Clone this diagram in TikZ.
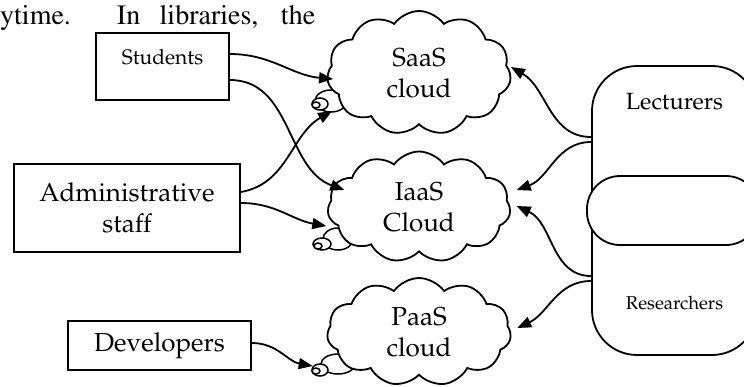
\documentclass[tikz,border=0pt]{standalone}
\usepackage[T1]{fontenc}
\usepackage{mathpazo}
\usepackage{tikz}
\usetikzlibrary{shapes.symbols, arrows.meta, positioning}
\definecolor{ink}{RGB}{0,0,0}
\newcommand{\bigfont}{\fontsize{26}{31}\selectfont}
\newcommand{\studfont}{\fontsize{21}{25}\selectfont}
\newcommand{\lectfont}{\fontsize{23.5}{28}\selectfont}
\newcommand{\resfont}{\fontsize{18.5}{22}\selectfont}
\newcommand{\bodyfont}{\fontfamily{ptm}\fontsize{28}{34}\selectfont}
\tikzset{
  userbox/.style={rectangle, draw=ink, fill=white, line width=1.8pt,
    inner sep=0pt, align=center, font=\bigfont},
  skycloud/.style={cloud, draw=ink, fill=white, line width=1.8pt,
    cloud puffs=11, cloud puff arc=110, inner sep=0pt,
    align=center, font=\bigfont},
  bubble/.style={draw=ink, fill=white, line width=1.5pt},
  arrow/.style={-{Triangle[length=14pt,width=11pt]}, line width=1.8pt, color=ink}
}
\begin{document}
\begin{tikzpicture}[x=1pt, y=-1pt]
  \clip (0,0) rectangle (744,386);
  % line of body text above the figure
  \node[anchor=base west, inner sep=0pt, font=\bodyfont] (bodyline) at (0,24)
    {\makebox[315pt][s]{ytime. In libraries, the}};

  % user groups
  \node[userbox, minimum width=133, minimum height=67] (stud) at (162.5,66.5) {};
  \node[font=\studfont] (studlbl) [below=14pt of stud.north] {Students};
  \node[userbox, minimum width=226, minimum height=88] (admin) at (127,208)
    {Administrative\\staff};
  \node[userbox, minimum width=183, minimum height=49] (dev) at (159.5,345.5)
    {Developers};

  % thought bubbles of the clouds
  \draw[bubble] (331,101) ellipse [x radius=16, y radius=11];
  \draw[bubble] (320,104) ellipse [x radius=8, y radius=6];
  \draw[bubble] (316,105) ellipse [x radius=4, y radius=3];
  \draw[bubble] (338,239) ellipse [x radius=15, y radius=11];
  \draw[bubble] (322,244) ellipse [x radius=9, y radius=6];
  \draw[bubble] (318,246) ellipse [x radius=4, y radius=3];
  \draw[bubble] (338,364) ellipse [x radius=17, y radius=10];
  \draw[bubble] (320,370) ellipse [x radius=8, y radius=6];
  \draw[bubble] (316,371) ellipse [x radius=4, y radius=3];

  % clouds
  \node[skycloud, aspect=1.48, minimum width=184, minimum height=124] (saas) at (419,73) {SaaS\\cloud};
  \node[skycloud, aspect=1.65, minimum width=183, minimum height=111] (iaas) at (419,207) {IaaS\\Cloud};
  \node[skycloud, aspect=1.7, minimum width=184, minimum height=108] (paas) at (419,332) {PaaS\\cloud};

  % lecturers / researchers
  \node[userbox, rounded corners=45pt, minimum width=165, minimum height=289]
    (lect) at (674.5,210.5) {};
  \node[userbox, rounded corners=33pt, minimum width=172, minimum height=69]
    (mid) at (673,210.5) {};
  \node[font=\lectfont] (lectlbl) [below=25pt of lect.north] {Lecturers};
  \node[font=\resfont] (reslbl) [above=42pt of lect.south] {Researchers};

  % connectors
  \draw[arrow] ([yshift=12.5pt]stud.east) to[out=0, in=175] ([shift={(6,6)}]saas.west);
  \draw[arrow] ([yshift=-13.5pt]stud.east) to[out=0, in=160] ([shift={(17,-17)}]iaas.west);
  \draw[arrow] ([yshift=16pt]admin.east) to[out=10, in=210] ([shift={(5,38)}]saas.west);
  \draw[arrow] ([yshift=5pt]admin.east) to[out=0, in=170] ([shift={(-1,19)}]iaas.west);
  \draw[arrow] ([yshift=2.5pt]dev.east) to[out=0, in=170] ([shift={(-14,34)}]paas.west);
  \draw[arrow] ([yshift=73.5pt]lect.west) to[out=180, in=-30] ([shift={(0,-6)}]saas.east);
  \draw[arrow] ([yshift=68.5pt]lect.west) to[out=180, in=20] ([shift={(6,-17)}]iaas.east);
  \draw[arrow] ([yshift=-65.5pt]lect.west) to[out=180, in=-25] ([shift={(6,-1)}]iaas.east);
  \draw[arrow] ([yshift=-70.5pt]lect.west) to[out=180, in=25] ([shift={(6,-4)}]paas.east);
\end{tikzpicture}
\end{document}
